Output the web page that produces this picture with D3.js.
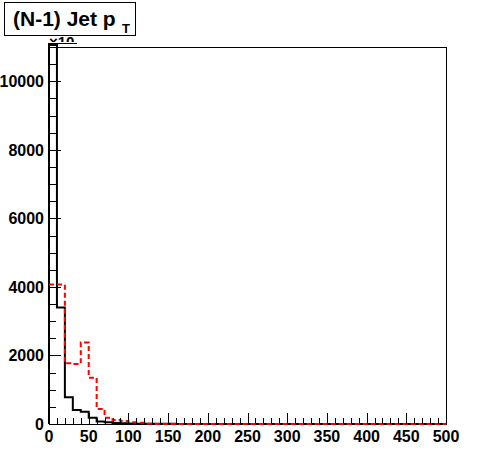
<!DOCTYPE html>
<html><head><meta charset="utf-8">
<script src="https://cdn.jsdelivr.net/npm/d3@7"></script>
<style>body{margin:0;background:#fff}svg{display:block}</style>
</head><body>
<script>
const binEdgesStart = 0, binWidth = 10;
const blackValues = [11060,3400,780,410,360,185,70,50,30,25,15,10,8,6,5,4,3,2,2,1,1,1,0,0,0,0,0,0,0,0,0,0,0,0,0,0,0,0,0,0,0,0,0,0,0,0,0,0,0,0];
const redValues = [4070,4070,1770,1750,2375,1350,440,185,117,88,50,35,5,3,2,1,0,0,0,0,0,0,0,0,0,0,0,0,0,0,0,0,0,0,0,0,0,0,0,0,0,0,0,0,0,0,0,0,0,0];
const xTicks = [0,50,100,150,200,250,300,350,400,450,500];
const yTicks = [0,2000,4000,6000,8000,10000];
const titleMain = "(N-1) Jet p";
const titleSub = "T";
const exponentLabel = "\u00d710";

const W=496,H=472, L=49, R=446, T=47, B=424;
const FONT = "Liberation Sans, Arial, Helvetica, sans-serif";
const svg = d3.select("body").append("svg").attr("width",W).attr("height",H);
svg.append("rect").attr("width",W).attr("height",H).attr("fill","#fff");
const x = d3.scaleLinear().domain([0,500]).range([L,R]);
const y = d3.scaleLinear().domain([0,11000]).range([B,T]);

svg.append("clipPath").attr("id","c").append("rect").attr("x",L-2).attr("y",T-4).attr("width",R-L+4).attr("height",B-T+6);

function stepPath(vals, fromZero){
  const pts=[];
  if(fromZero) pts.push([x(0),y(0)]);
  vals.forEach((v,i)=>{const x0=x(binEdgesStart+i*binWidth), x1=x(binEdgesStart+(i+1)*binWidth); pts.push([x0,y(v)],[x1,y(v)]);});
  pts.push([x(500),y(0)]);
  return d3.line()(pts);
}
// frame
svg.append("rect").attr("x",L).attr("y",T).attr("width",R-L).attr("height",B-T).attr("fill","none").attr("stroke","#000").attr("stroke-width",1).attr("shape-rendering","crispEdges");

const g = svg.append("g").attr("clip-path","url(#c)");
g.append("path").attr("d",stepPath(blackValues,true)).attr("fill","none").attr("stroke","#000").attr("stroke-width",2);
g.append("path").attr("d",stepPath(redValues,false)).attr("fill","none").attr("stroke","#ff0000").attr("stroke-width",2).attr("stroke-dasharray","5,3");

// x axis
const xa = svg.append("g").attr("transform",`translate(0,${B})`);
xa.call(d3.axisBottom(x).tickValues(d3.range(0,501,10)).tickSize(0).tickFormat(""));
xa.select(".domain").remove();
xa.selectAll(".tick line").remove();
d3.range(0,501,10).forEach(v=>{
  const big = v%50===0;
  xa.append("line").attr("x1",Math.round(x(v))+0.5).attr("x2",Math.round(x(v))+0.5).attr("y1",0).attr("y2",big?-11:-6).attr("stroke","#000");
});
xTicks.forEach(v=>{
  xa.append("text").attr("x",x(v)).attr("y",18).attr("text-anchor","middle").attr("fill","#000").attr("font-family",FONT).attr("font-weight","bold").attr("font-size",16).text(v);
});
// y axis
const ya = svg.append("g");
d3.range(0,11001,500).forEach(v=>{
  const big = v%2000===0;
  ya.append("line").attr("x1",L).attr("x2",L+(big?12:7)).attr("y1",Math.round(y(v))+0.5).attr("y2",Math.round(y(v))+0.5).attr("stroke","#000");
});
yTicks.forEach(v=>{
  ya.append("text").attr("x",L-5).attr("y",y(v)+6).attr("text-anchor","end").attr("fill","#000").attr("font-family",FONT).attr("font-weight","bold").attr("font-size",16).text(v);
});
svg.append("clipPath").attr("id","ec").append("rect").attr("x",0).attr("y",0).attr("width",W).attr("height",42);
svg.append("text").attr("clip-path","url(#ec)").attr("x",49).attr("y",47).attr("fill","#000").attr("font-family",FONT).attr("font-weight","bold").attr("font-size",15).text(exponentLabel);
svg.append("line").attr("x1",48).attr("x2",77).attr("y1",43.5).attr("y2",43.5).attr("stroke","#000");

// title box
svg.append("rect").attr("x",4.5).attr("y",2.5).attr("width",131).attr("height",33).attr("fill","#fff").attr("stroke","#000");
const tt = svg.append("text").attr("x",13).attr("y",26).attr("fill","#000").attr("font-family",FONT).attr("font-weight","bold").attr("font-size",21);
tt.append("tspan").text(titleMain);
tt.append("tspan").attr("x",122).attr("y",33).attr("font-size",13).text(titleSub);
</script>
</body></html>
